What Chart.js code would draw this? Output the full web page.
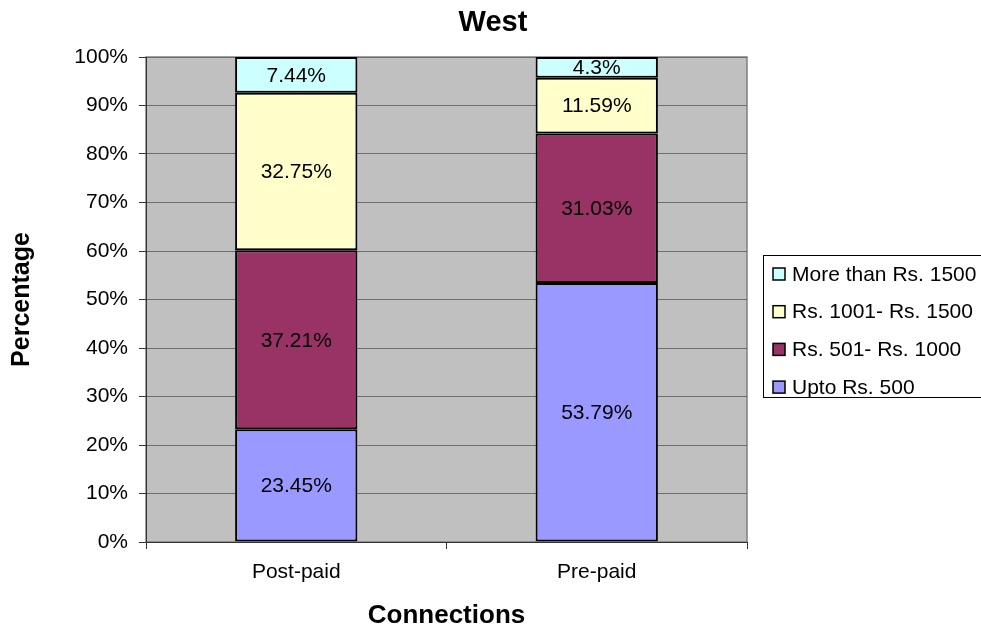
<!DOCTYPE html>
<html>
<head>
<meta charset="utf-8">
<script src="https://cdn.jsdelivr.net/npm/chart.js@4"></script>
<style>
  html, body { margin: 0; padding: 0; background: #fff; }
  #wrap { width: 981px; height: 632px; }
</style>
</head>
<body>
<div id="wrap"><canvas id="chart" width="981" height="632"></canvas></div>
<script>
// --- Dados ---
const categories = ['Post-paid', 'Pre-paid'];
const seriesNames = ['Upto Rs. 500', 'Rs. 501- Rs. 1000', 'Rs. 1001- Rs. 1500', 'More than Rs. 1500'];
const upto500 = [23.45, 53.79];
const rs501to1000 = [37.21, 31.03];
const rs1001to1500 = [32.75, 11.59];
const moreThan1500 = [7.44, 4.3];
const yTicks = [0, 10, 20, 30, 40, 50, 60, 70, 80, 90, 100];

const seriesValues = [upto500, rs501to1000, rs1001to1500, moreThan1500];
const seriesColors = ['#9999ff', '#993366', '#ffffcc', '#ccffff'];

const FONT = '"Liberation Sans", Arial, sans-serif';

// 100% stacked: each column normalised to its own total
const totals = categories.map((_, i) => seriesValues.reduce((s, arr) => s + arr[i], 0));

const datasets = seriesValues.map((vals, k) => ({
    label: seriesNames[k],
    data: vals.map((v, i) => v / totals[i] * 100),
    raw: vals,
    backgroundColor: seriesColors[k],
    borderColor: '#000',
    borderWidth: 2,
    borderSkipped: false,
    barPercentage: 0.407,
    categoryPercentage: 1
}));

// --- Plugins ---
const plotBackground = {
    id: 'plotBackground',
    beforeDraw(chart) {
        const { ctx, chartArea: a } = chart;
        ctx.save();
        ctx.fillStyle = '#c0c0c0';
        ctx.fillRect(a.left, a.top, a.right - a.left, a.bottom - a.top);
        ctx.strokeStyle = '#808080';
        ctx.lineWidth = 1.5;
        ctx.strokeRect(a.left, a.top, a.right - a.left, a.bottom - a.top);
        ctx.restore();
    }
};

const segmentLabels = {
    id: 'segmentLabels',
    afterDatasetsDraw(chart) {
        const { ctx } = chart;
        ctx.save();
        ctx.font = '21px ' + FONT;
        ctx.fillStyle = '#000';
        ctx.textAlign = 'center';
        ctx.textBaseline = 'middle';
        chart.data.datasets.forEach((ds, k) => {
            chart.getDatasetMeta(k).data.forEach((bar, i) => {
                const y = (bar.y + bar.base) / 2;
                ctx.fillText(ds.raw[i] + '%', bar.x, y + 1);
            });
        });
        ctx.restore();
    }
};

const titleAndLegend = {
    id: 'titleAndLegend',
    afterDraw(chart) {
        const { ctx } = chart;
        ctx.save();
        // título
        ctx.font = 'bold 29px ' + FONT;
        ctx.fillStyle = '#000';
        ctx.textAlign = 'center';
        ctx.textBaseline = 'middle';
        ctx.fillText('West', 493, 23);

        // legenda
        const bx = 763, by = 255, bw = 240, bh = 142;
        ctx.fillStyle = '#fff';
        ctx.fillRect(bx, by, bw, bh);
        ctx.strokeStyle = '#000';
        ctx.lineWidth = 1;
        ctx.strokeRect(bx + 0.5, by + 0.5, bw, bh);
        ctx.font = '21px ' + FONT;
        ctx.textAlign = 'left';
        const dsList = chart.data.datasets.slice().reverse();
        dsList.forEach((ds, j) => {
            const cy = 274 + j * 37.7;
            ctx.fillStyle = ds.backgroundColor;
            ctx.fillRect(773, cy - 6, 12, 12);
            ctx.strokeStyle = '#000';
            ctx.lineWidth = 1.5;
            ctx.strokeRect(773, cy - 6, 12, 12);
            ctx.fillStyle = '#000';
            ctx.fillText(ds.label, 792, cy + 1);
        });
        ctx.restore();
    }
};

// --- Gráfico ---
const ctx = document.getElementById('chart').getContext('2d');
new Chart(ctx, {
    type: 'bar',
    data: { labels: categories, datasets: datasets },
    options: {
        responsive: false,
        animation: false,
        layout: { padding: { top: 57, right: 234, left: 0, bottom: 0 } },
        plugins: {
            legend: { display: false },
            title: { display: false },
            tooltip: { enabled: false }
        },
        scales: {
            x: {
                stacked: true,
                afterFit: (s) => { s.height = 90; },
                grid: { offset: true, drawOnChartArea: false, drawTicks: true, tickLength: 7, tickColor: '#333' },
                border: { color: '#333', width: 1 },
                ticks: { color: '#000', padding: 11, font: { family: FONT, size: 21 } },
                title: { display: true, text: 'Connections', color: '#000', padding: { top: 0, bottom: 1 }, font: { family: FONT, size: 26, weight: 'bold' } }
            },
            y: {
                stacked: true,
                min: 0,
                max: 100,
                afterFit: (s) => { s.width = 146; },
                afterBuildTicks: (s) => { s.ticks = yTicks.map(v => ({ value: v })); },
                grid: { color: '#6e6e6e', lineWidth: 1, drawTicks: true, tickLength: 7, tickColor: '#333' },
                border: { color: '#333', width: 1 },
                ticks: { color: '#000', padding: 11, font: { family: FONT, size: 21 }, callback: (v) => v + '%' },
                title: { display: true, text: 'Percentage', color: '#000', padding: { top: 7, bottom: 0 }, font: { family: FONT, size: 25, weight: 'bold' } }
            }
        }
    },
    plugins: [plotBackground, segmentLabels, titleAndLegend]
});
</script>
</body>
</html>
